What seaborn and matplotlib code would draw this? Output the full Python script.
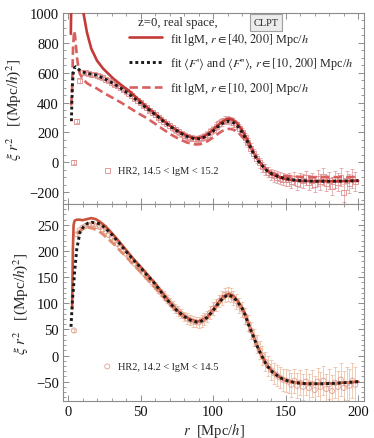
import numpy as np
import seaborn as sns
import matplotlib.pyplot as plt
from matplotlib.ticker import MultipleLocator

sns.set_theme(style="ticks")
plt.rcParams['font.family'] = ['Liberation Serif', 'DejaVu Serif']
plt.rcParams['mathtext.fontset'] = 'stix'

# ---- top panel: HR2, 14.5 < lgM < 15.2 ----
top_r_data = list(range(4, 200, 2))
top_xi_data = [0, 275, 547, 600, 598, 594, 588, 586, 579, 574,
               566, 556, 548, 536, 524, 511, 499, 486, 473, 459,
               445, 430, 413, 398, 381, 366, 349, 334, 318, 303,
               288, 273, 258, 244, 230, 216, 204, 191, 181, 172,
               165, 160, 157, 160, 166, 175, 188, 204, 222, 242,
               258, 272, 281, 284, 278, 266, 250, 228, 200, 168,
               130, 95, 56, 25, -5, -30, -50, -66, -80, -92,
               -100, -108, -113, -118, -115, -128, -110, -140, -118, -125,
               -105, -135, -120, -150, -108, -130, -95, -140, -125, -160,
               -115, -135, -100, -205, -120, -140, -110, -130]
top_err_data = [15, 15, 14, 12, 10, 10, 10, 10, 10, 10,
                10, 10, 11, 11, 11, 12, 12, 12, 12, 13,
                13, 13, 14, 14, 14, 15, 15, 15, 16, 16,
                16, 17, 17, 18, 18, 18, 19, 19, 20, 20,
                20, 21, 21, 22, 22, 23, 23, 24, 24, 25,
                25, 26, 26, 27, 27, 28, 28, 29, 29, 30,
                30, 31, 31, 32, 33, 34, 35, 36, 37, 38,
                39, 40, 41, 42, 43, 44, 45, 46, 47, 48,
                49, 50, 51, 52, 53, 54, 55, 56, 57, 58,
                59, 60, 61, 62, 63, 64, 65, 66]

top_r_fit40 = [1.9, 2.1, 2.4, 10.6, 13, 16, 20, 24, 31, 37,
               42.6, 48, 54, 60, 65.6, 71, 77, 82, 86, 88.5,
               91, 94, 97, 100, 103, 106, 109, 111, 114, 117,
               120, 123, 126, 128, 131, 134, 137, 141, 146, 150,
               155, 160, 170, 180, 190, 200]
top_xi_fit40 = [860, 1000, 1300, 1000, 870, 761, 680, 629, 562, 515,
                474, 425, 372, 325, 280, 240, 202, 176, 163, 160,
                163, 174, 194, 218, 246, 270, 286, 292, 282, 256,
                215, 163, 105, 62, 15, -22, -54, -82, -102, -113,
                -120, -125, -128, -128, -127, -125]

top_r_fitF = [2.3, 2.6, 3.0, 3.6, 4.5, 5.3, 7, 9, 12.6, 16,
              19.5, 25, 31, 37, 42.6, 48, 54, 60, 65.6, 71,
              77, 82, 86, 88.5, 91, 94, 97, 100, 103, 106,
              109, 111, 114, 117, 120, 123, 126, 128, 131, 134,
              137, 141, 146, 150, 155, 160, 170, 180, 190, 200]
top_xi_fitF = [275, 400, 520, 600, 635, 640, 625, 610, 596, 590,
               584, 560, 529, 492, 452, 410, 363, 320, 275, 235,
               198, 172, 160, 156, 158, 168, 186, 208, 235, 258,
               272, 275, 265, 240, 200, 150, 95, 54, 10, -25,
               -56, -82, -100, -110, -118, -123, -127, -127, -126, -123]

top_r_fit10 = [2.2, 2.8, 3.4, 4.1, 4.8, 5.5, 6.3, 7.2, 8, 10,
               13, 16, 19.5, 25, 31, 37, 42.6, 48, 54, 60,
               65.6, 71, 77, 82, 86, 88.5, 91, 94, 97, 100,
               103, 106, 109, 111, 114, 117, 120, 123, 126, 128,
               131, 134, 137, 141, 146, 150, 155, 160, 170, 180,
               190, 200]
top_xi_fit10 = [380, 500, 760, 880, 850, 770, 690, 630, 595, 560,
                530, 512, 496, 462, 430, 397, 363, 330, 297, 258,
                220, 185, 153, 132, 122, 119, 121, 130, 146, 166,
                188, 208, 220, 224, 218, 200, 172, 135, 92, 60,
                15, -22, -50, -72, -88, -93, -96, -98, -100, -100,
                -100, -98]

# ---- bottom panel: HR2, 14.2 < lgM < 14.5 ----
bot_r_data = list(range(4, 200, 2))
bot_xi_data = [48, 232, 240, 245, 248, 250, 251, 250, 248, 246,
               241, 237, 231, 226, 220, 214, 208, 201, 195, 189,
               182, 176, 170, 164, 158, 152, 146, 140, 134, 127,
               121, 115, 108, 102, 96, 90, 85, 80, 75, 71,
               68, 65, 64, 63, 66, 70, 75, 82, 90, 97,
               104, 110, 116, 118, 116, 110, 104, 96, 88, 76,
               62, 48, 35, 22, 10, 0, -12, -20, -28, -34,
               -38, -42, -46, -48, -50, -56, -48, -58, -52, -60,
               -50, -62, -54, -66, -50, -60, -48, -64, -55, -68,
               -52, -60, -46, -62, -54, -58, -48, -56]
bot_err_data = [3, 3, 3, 3, 3, 3, 3, 3, 3, 3,
                3, 3, 4, 4, 4, 4, 4, 4, 5, 5,
                5, 5, 5, 6, 6, 6, 6, 7, 7, 7,
                7, 8, 8, 8, 8, 9, 9, 9, 9, 10,
                10, 10, 10, 11, 11, 11, 11, 12, 12, 12,
                12, 13, 13, 13, 13, 14, 14, 14, 15, 15,
                15, 16, 16, 17, 17, 18, 18, 19, 19, 20,
                20, 21, 21, 22, 22, 23, 23, 24, 24, 25,
                25, 26, 26, 27, 27, 28, 28, 29, 29, 30,
                30, 31, 31, 32, 32, 33, 33, 34]

bot_r_fit40 = [2.8, 3.3, 3.8, 4.5, 6, 8, 10, 13, 16, 19,
               22, 26, 30, 35, 40, 45, 50, 55, 60, 65,
               70, 75, 80, 84, 88.8, 92, 96, 100, 104, 107,
               110.6, 114, 117, 120, 122, 125, 128, 130, 133, 137,
               141, 145, 148, 152, 157, 165, 175, 185, 195, 200]
bot_xi_fit40 = [90, 200, 250, 258, 260, 260, 259, 261, 263, 261,
                256, 247, 235, 219, 202, 185, 170, 154, 138, 120,
                102, 87, 76, 69, 65, 67, 74, 88, 103, 113,
                118, 114, 104, 91, 79, 56, 36, 21, 3, -18,
                -31, -40, -45, -49, -52, -54, -54, -53, -51, -50]

bot_r_fitF = [2, 2.5, 3, 3.7, 4.5, 6, 8.3, 11, 13.5, 16.3,
              19, 22, 26, 30, 35, 40, 45, 50, 55, 60,
              65, 70, 75, 80, 84, 88.8, 92, 96, 100, 104,
              107, 110.6, 114, 117, 120, 122, 125, 128, 130, 133,
              137, 141, 145, 148, 152, 157, 165, 175, 185, 195,
              200]
bot_xi_fitF = [55, 80, 105, 128, 160, 204, 237, 248, 253, 255,
               254, 252, 243, 232, 216, 199, 183, 168, 152, 137,
               118, 101, 86, 75, 68, 64, 66, 73, 86, 101,
               111, 116, 112, 102, 90, 78, 55, 35, 20, 2,
               -19, -32, -40, -45, -49, -52, -54, -54, -53, -51,
               -50]

bot_r_fit10 = [6, 8, 10, 12, 14, 17, 20, 24, 28, 32,
               36, 40, 45, 50, 55, 60, 65, 70, 75, 80,
               84, 88.8, 92, 96, 100, 104, 107, 110.6, 114, 117,
               120, 122, 125, 128, 130, 133, 137, 141, 145, 148,
               152, 157, 165, 175, 185, 195, 200]
bot_xi_fit10 = [233, 238, 242, 244, 245, 243, 240, 232, 222, 212,
                200, 189, 174, 160, 145, 130, 114, 98, 84, 73,
                67, 63, 65, 72, 85, 99, 109, 114, 110, 100,
                88, 77, 55, 35, 20, 2, -19, -32, -40, -45,
                -49, -52, -54, -54, -53, -51, -50]

lab_fit40 = r'fit lgM, $r \in [40,\, 200]$ Mpc/$h$'
lab_fitF = r"fit $\langle F$'$\rangle$ and $\langle F$''$\rangle$, $r \in [10,\, 200]$ Mpc/$h$"
lab_fit10 = r'fit lgM, $r \in [10,\, 200]$ Mpc/$h$'

frame_col = '#8c8c8c'
W, H = 374, 439

fig = plt.figure(figsize=(3.74, 4.39), dpi=100)
ax1 = fig.add_axes([63 / W, 1 - 205 / H, 301 / W, 191 / H])
ax2 = fig.add_axes([63 / W, 1 - 402 / H, 301 / W, 197 / H])


def draw_panel(ax, r_d, xi_d, err_d, marker, pt_col, err_col, pt_label,
               r40, xi40, rF, xiF, r10, xi10, c40, c10):
    ax.errorbar(r_d, xi_d, yerr=err_d, fmt='none', ecolor=err_col,
                elinewidth=0.6, capsize=1.6, capthick=0.6, alpha=0.75, zorder=1)
    sns.scatterplot(x=r_d, y=xi_d, ax=ax, marker=marker, s=13, fc='none',
                    ec=pt_col, linewidth=0.7, alpha=0.85, zorder=2, label=pt_label)
    sns.lineplot(x=r40, y=xi40, ax=ax, color=c40, lw=1.9, sort=False,
                 zorder=3, label=lab_fit40)
    sns.lineplot(x=r10, y=xi10, ax=ax, color=c10, lw=1.9, sort=False,
                 linestyle=(0, (3.2, 1.6)), zorder=3, label=lab_fit10)
    sns.lineplot(x=rF, y=xiF, ax=ax, color='#1a1a1a', lw=2.1, sort=False,
                 linestyle=(0, (1, 1)), zorder=4, label=lab_fitF)
    ax.set_xlim(-3.5, 204)
    ax.xaxis.set_major_locator(MultipleLocator(50))
    ax.xaxis.set_minor_locator(MultipleLocator(10))
    for s in ax.spines.values():
        s.set_color(frame_col)
        s.set_linewidth(0.8)
    ax.tick_params(which='both', direction='in', top=True, right=True,
                   color=frame_col, labelsize=10.5, pad=3, labelcolor='#111111')
    ax.tick_params(which='major', length=4.5, width=0.7)
    ax.tick_params(which='minor', length=2.5, width=0.6)
    ax.set_ylabel(r'$\xi\ r^2$   [(Mpc/$h$)$^2$]', fontsize=11, labelpad=4)
    ax.set_xlabel('')
    ax.grid(False)


draw_panel(ax1, top_r_data, top_xi_data, top_err_data, 's', '#e08a8a', '#d98a8a',
           'HR2, 14.5 < lgM < 15.2',
           top_r_fit40, top_xi_fit40, top_r_fitF, top_xi_fitF,
           top_r_fit10, top_xi_fit10, '#c43a36', '#d9605f')
ax1.set_ylim(-280, 1000)
ax1.yaxis.set_major_locator(MultipleLocator(200))
ax1.yaxis.set_minor_locator(MultipleLocator(50))
ax1.tick_params(labelbottom=False)

draw_panel(ax2, bot_r_data, bot_xi_data, bot_err_data, 'o', '#e09a8c', '#e9b08c',
           'HR2, 14.2 < lgM < 14.5',
           bot_r_fit40, bot_xi_fit40, bot_r_fitF, bot_xi_fitF,
           bot_r_fit10, bot_xi_fit10, '#c9533b', '#e0896c')
ax2.set_ylim(-87, 290)
ax2.yaxis.set_major_locator(MultipleLocator(50))
ax2.yaxis.set_minor_locator(MultipleLocator(10))
ax2.set_xlabel(r'$r$  [Mpc/$h$]', fontsize=10.5, labelpad=1)

# legends: fit curves only on top panel, data label in each panel
for ax in (ax1, ax2):
    handles, labels = ax.get_legend_handles_labels()
    hd = dict(zip(labels, handles))
    ax.get_legend().remove()
    pt_lab = [l for l in labels if l.startswith('HR2')][0]
    leg_pts = ax.legend([hd[pt_lab]], [pt_lab], loc='center left',
                        bbox_to_anchor=(0.09, 0.175), frameon=False,
                        fontsize=7.5, handletextpad=0.3, handlelength=1.5)
    if ax is ax1:
        ax.add_artist(leg_pts)
        ax.legend([hd[lab_fit40], hd[lab_fitF], hd[lab_fit10]],
                  [lab_fit40, lab_fitF, lab_fit10], loc='upper left',
                  bbox_to_anchor=(0.2, 0.94), frameon=False, fontsize=8.8,
                  handlelength=2.7, handletextpad=0.6, labelspacing=0.72,
                  borderpad=0.0)

ax1.text(0.25, 0.955, 'z=0, real space,', transform=ax1.transAxes,
         fontsize=9.2, va='center', ha='left')
ax1.text(0.675, 0.95, 'CLPT', transform=ax1.transAxes, fontsize=7.5,
         va='center', ha='center',
         bbox=dict(boxstyle='square,pad=0.35', fc='#ececec', ec='#a0a0a0', lw=0.8))

fig.savefig('out.png', dpi=100)
